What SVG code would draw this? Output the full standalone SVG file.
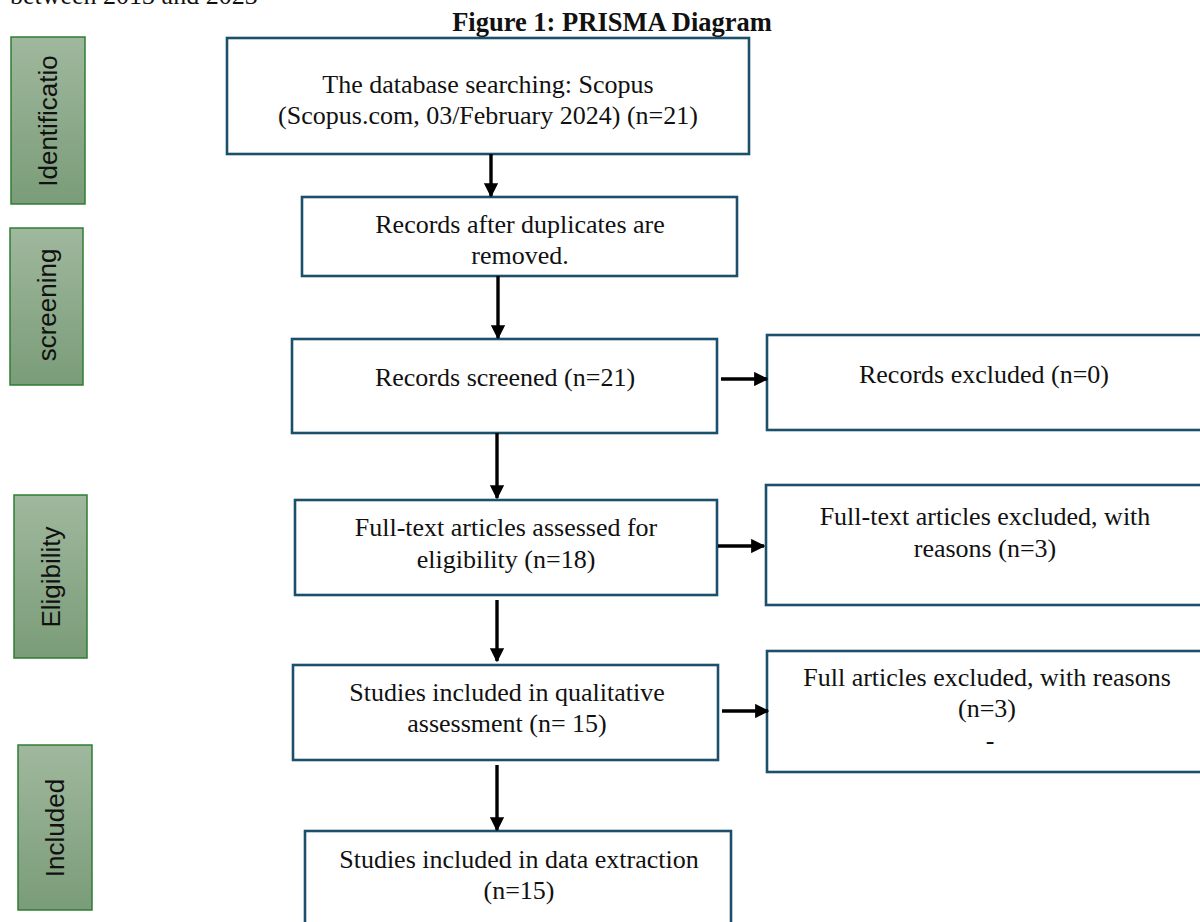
<svg xmlns="http://www.w3.org/2000/svg" width="1200" height="922" viewBox="0 0 1200 922">
<defs>
<linearGradient id="g" x1="0" y1="0" x2="0" y2="1">
<stop offset="0" stop-color="#a0b89e"/>
<stop offset="1" stop-color="#7a9c78"/>
</linearGradient>
<marker id="ah" viewBox="0 0 10 10" refX="9" refY="5" markerWidth="4.2" markerHeight="4.2" markerUnits="strokeWidth" orient="auto">
<path d="M0,0 L10,5 L0,10 Z" fill="#000"/>
</marker>
</defs>
<style>
.box{fill:#fff;stroke:#1b4f6b;stroke-width:2.6}
.t{font-family:"Liberation Serif","Times New Roman",serif;font-size:26px;fill:#111;text-anchor:middle}
.side{fill:url(#g);stroke:#2e7d32;stroke-width:1.5}
.st{font-family:"Liberation Sans",Arial,sans-serif;font-size:26px;fill:#111;text-anchor:middle}
.c{stroke:#000;stroke-width:3.4;fill:none;marker-end:url(#ah)}
</style>
<rect width="1200" height="922" fill="#fff"/>
<text x="10" y="4" font-family="Liberation Serif, serif" font-size="26" fill="#111">between 2013 and 2023</text>
<text x="612" y="31" font-family="Liberation Serif, serif" font-size="26.5" font-weight="bold" text-anchor="middle" fill="#111">Figure 1: PRISMA Diagram</text>

<g id="side-identification"><rect class="side" x="11" y="37" width="74" height="167"/><text class="st" transform="translate(57,121) rotate(-90)">Identificatio</text></g>
<g id="side-screening"><rect class="side" x="10" y="228" width="73" height="157"/><text class="st" transform="translate(56,305) rotate(-90)">screening</text></g>
<g id="side-eligibility"><rect class="side" x="14" y="495" width="73" height="163"/><text class="st" transform="translate(60,577) rotate(-90)">Eligibility</text></g>
<g id="side-included"><rect class="side" x="18" y="745" width="74" height="165"/><text class="st" transform="translate(64,828) rotate(-90)">Included</text></g>

<g id="n-database"><rect class="box" x="227" y="38" width="522" height="116"/><text class="t" x="488" y="93">The database searching: Scopus</text><text class="t" x="488" y="124">(Scopus.com, 03/February 2024) (n=21)</text></g>
<g id="n-duplicates"><rect class="box" x="302" y="197" width="435" height="79"/><text class="t" x="520" y="233">Records after duplicates are</text><text class="t" x="520" y="264">removed.</text></g>
<g id="n-screened"><rect class="box" x="292" y="339" width="425" height="94"/><text class="t" x="505" y="386">Records screened (n=21)</text></g>
<g id="n-excluded"><rect class="box" x="767" y="335" width="440" height="95"/><text class="t" x="984" y="383">Records excluded (n=0)</text></g>
<g id="n-fulltext"><rect class="box" x="295" y="500" width="422" height="95"/><text class="t" x="506" y="536">Full-text articles assessed for</text><text class="t" x="506" y="568">eligibility (n=18)</text></g>
<g id="n-fulltext-excluded"><rect class="box" x="766" y="485" width="440" height="120"/><text class="t" x="985" y="525">Full-text articles excluded, with</text><text class="t" x="985" y="557">reasons (n=3)</text></g>
<g id="n-qualitative"><rect class="box" x="293" y="665" width="425" height="95"/><text class="t" x="507" y="701">Studies included in qualitative</text><text class="t" x="507" y="732">assessment (n= 15)</text></g>
<g id="n-full-excluded"><rect class="box" x="767" y="651" width="440" height="121"/><text class="t" x="987" y="686">Full articles excluded, with reasons</text><text class="t" x="987" y="717">(n=3)</text><text class="t" x="990" y="749">-</text></g>
<g id="n-extraction"><rect class="box" x="305" y="831" width="426" height="100"/><text class="t" x="519" y="868">Studies included in data extraction</text><text class="t" x="519" y="899">(n=15)</text></g>

<g id="connectors">
<line class="c" x1="491" y1="154" x2="491" y2="196"/>
<line class="c" x1="498" y1="276" x2="498" y2="338"/>
<line class="c" x1="497" y1="433" x2="497" y2="498"/>
<line class="c" x1="497" y1="600" x2="497" y2="661"/>
<line class="c" x1="497" y1="765" x2="497" y2="830"/>
<line class="c" x1="721" y1="379" x2="767" y2="379"/>
<line class="c" x1="718" y1="546" x2="764" y2="546"/>
<line class="c" x1="722" y1="711" x2="768" y2="711"/>
</g>
</svg>
